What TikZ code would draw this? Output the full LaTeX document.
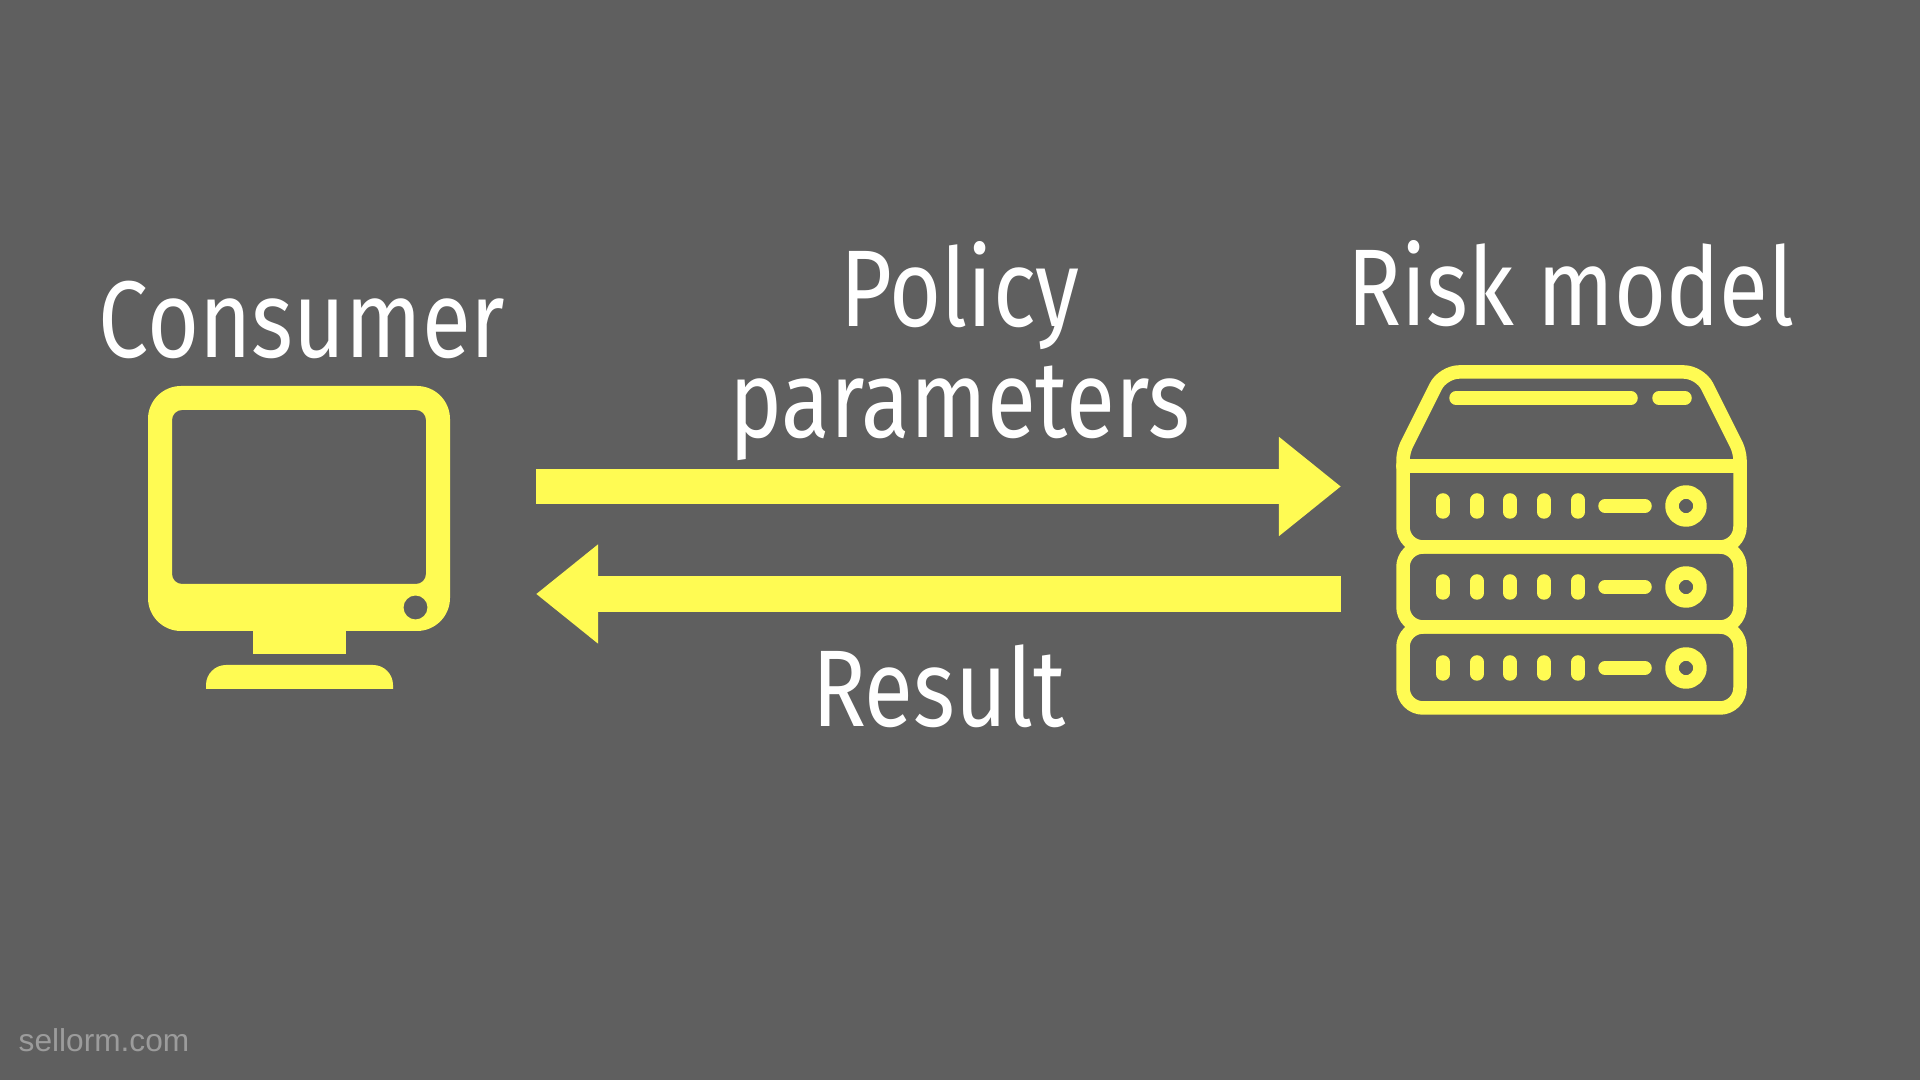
\documentclass[tikz,border=0pt]{standalone}
\usepackage{fontspec}
\usepackage{xcolor}
\setmainfont[FakeStretch=0.82]{Fira Sans}
\newfontfamily\markfont{Liberation Sans}
\usetikzlibrary{arrows.meta,positioning}
\definecolor{slate}{HTML}{5F5F5F}
\definecolor{lemon}{HTML}{FFFB53}
\definecolor{faded}{HTML}{9C9C9C}
\tikzset{
	iconfill/.style={fill=lemon,draw=none},
	iconline/.style={draw=lemon,line width=0.135cm,line join=round,line cap=round},
	flow/.style={draw=lemon,line width=0.35cm,-{Triangle[length=0.62cm,width=0.95cm]}},
	heading/.style={text=white,font=\fontsize{31}{31.6}\selectfont,inner sep=0pt,align=center}
}
\begin{document}
\begin{tikzpicture}[x=0.01cm,y=-0.01cm]
		\fill[slate] (0,0) rectangle (1920,1080);
		\useasboundingbox (0,0) rectangle (1920,1080);

		% labels and the two arrows
		\node[heading,anchor=base] (consumer) at (302,358) {Consumer};
		\node[heading,anchor=base] (riskmodel) at (1571,326) {Risk model};
		\coordinate (sendfrom) at (536,486.5);
		\coordinate (sendto) at (1341,486.5);
		\coordinate (backfrom) at (1341,594);
		\coordinate (backto) at (536,594);
		\node[heading] (policy) at (960,351) {Policy\\parameters};
		\node[heading,anchor=base] (result) at (939,727) {Result};

		\draw[flow] (sendfrom) -- (sendto);
		\draw[flow] (backfrom) -- (backto);

		% monitor
		\fill[iconfill,even odd rule] [rounded corners=0.33cm] (148,386) rectangle (450,631)
			[rounded corners=0.1cm] (172,410) rectangle (426,584)
			[sharp corners] (415.5,607.5) circle (12);
		\fill[iconfill] (253,631) rectangle (346,654);
		\fill[iconfill] (206,689) [rounded corners=0.2cm] -- (206,665) -- (393,665) [sharp corners] -- (393,689) -- cycle;

		% server stack
		\draw[iconline] (1403,466) [rounded corners=0.08cm] -- (1403,452) [rounded corners=0.16cm] -- (1443,372) -- (1700,372) [rounded corners=0.08cm] -- (1740,452) [sharp corners] -- (1740,466);
		\draw[iconline] (1403,466) -- (1740,466);
		\draw[iconline] (1403,466) [rounded corners=0.2cm] -- (1403,547) -- (1740,547) [sharp corners] -- (1740,466);
		\draw[iconline,rounded corners=0.2cm] (1403,547) rectangle (1740,627);
		\draw[iconline,rounded corners=0.2cm] (1403,627) rectangle (1740,708);
		\draw[iconline] (1456,398) -- (1631,398);
		\draw[iconline] (1659,398) -- (1685,398);
		\foreach \rowy in {506,587,668} {
			\foreach \dotx in {1443,1477,1510,1544,1578}
				\draw[iconline] (\dotx,\rowy-6) -- (\dotx,\rowy+6);
			\draw[iconline] (1605,\rowy) -- (1645,\rowy);
			\draw[iconline] (1686,\rowy) circle (14);
		}

		\node[text=faded,font=\markfont\fontsize{9}{11}\selectfont,anchor=base west,inner sep=0pt] (site) at (18,1052) {sellorm.com};
	\end{tikzpicture}
\end{document}
